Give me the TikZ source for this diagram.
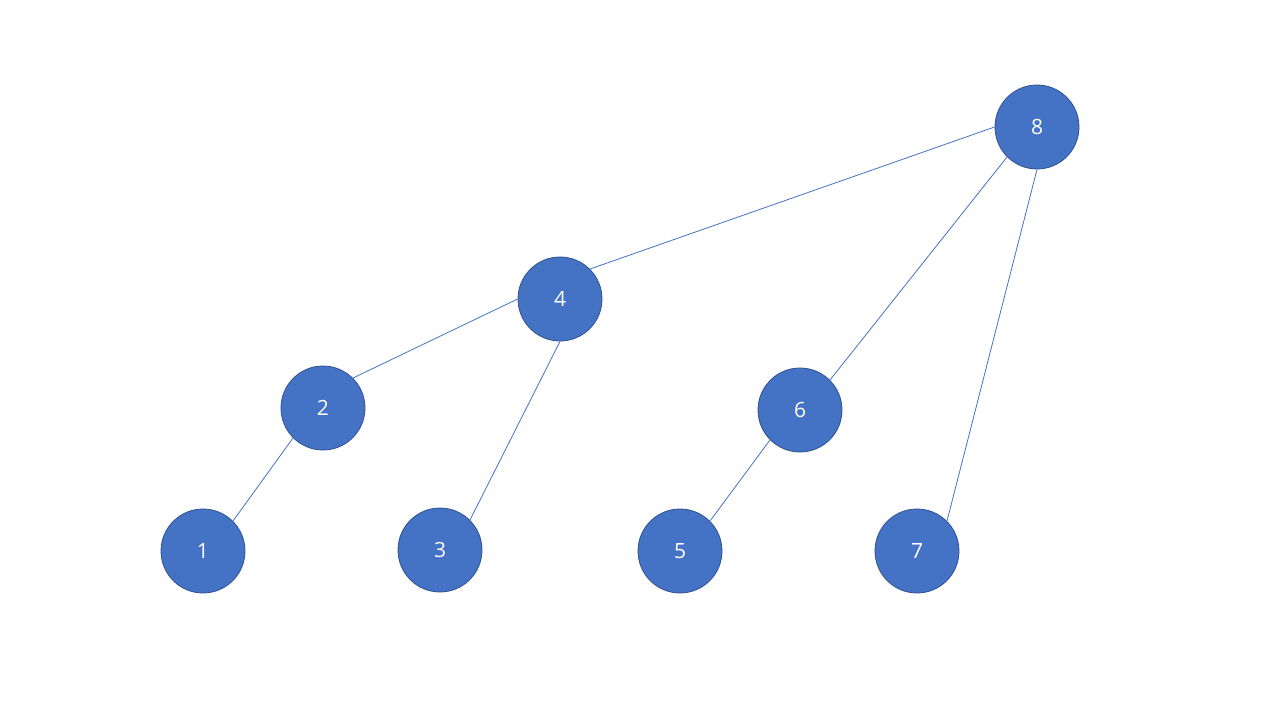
\documentclass[tikz,border=0pt]{standalone}
\usepackage{fontspec}
\setmainfont{Open Sans}
\definecolor{nodefill}{HTML}{4472C4}
\definecolor{nodeedge}{HTML}{2F528F}
\begin{document}
\begin{tikzpicture}[x=1pt,y=-1pt,
  treenode/.style={circle,fill=nodefill,draw=nodeedge,line width=0.8pt,minimum size=84pt,inner sep=0pt,text=white,font=\fontsize{21}{24}\selectfont},
  edge/.style={draw=nodefill,line width=0.8pt}]
\useasboundingbox (0,0) rectangle (1280,720);
\node[treenode] (n8) at (1037,127) {8};
\node[treenode] (n4) at (560,299) {4};
\node[treenode] (n2) at (323,408) {2};
\node[treenode] (n6) at (800,410) {6};
\node[treenode] (n1) at (203,551) {1};
\node[treenode] (n3) at (440,550) {3};
\node[treenode] (n5) at (680,551) {5};
\node[treenode] (n7) at (917,551) {7};
\path[edge] (n8.west) -- (n4.north east);
\path[edge] (n8.south west) -- (n6.north east);
\path[edge] (n8.south) -- (n7.north east);
\path[edge] (n4.west) -- (n2.north east);
\path[edge] (n4.south) -- (n3.north east);
\path[edge] (n2.south west) -- (n1.north east);
\path[edge] (n6.south west) -- (n5.north east);
\end{tikzpicture}
\end{document}
